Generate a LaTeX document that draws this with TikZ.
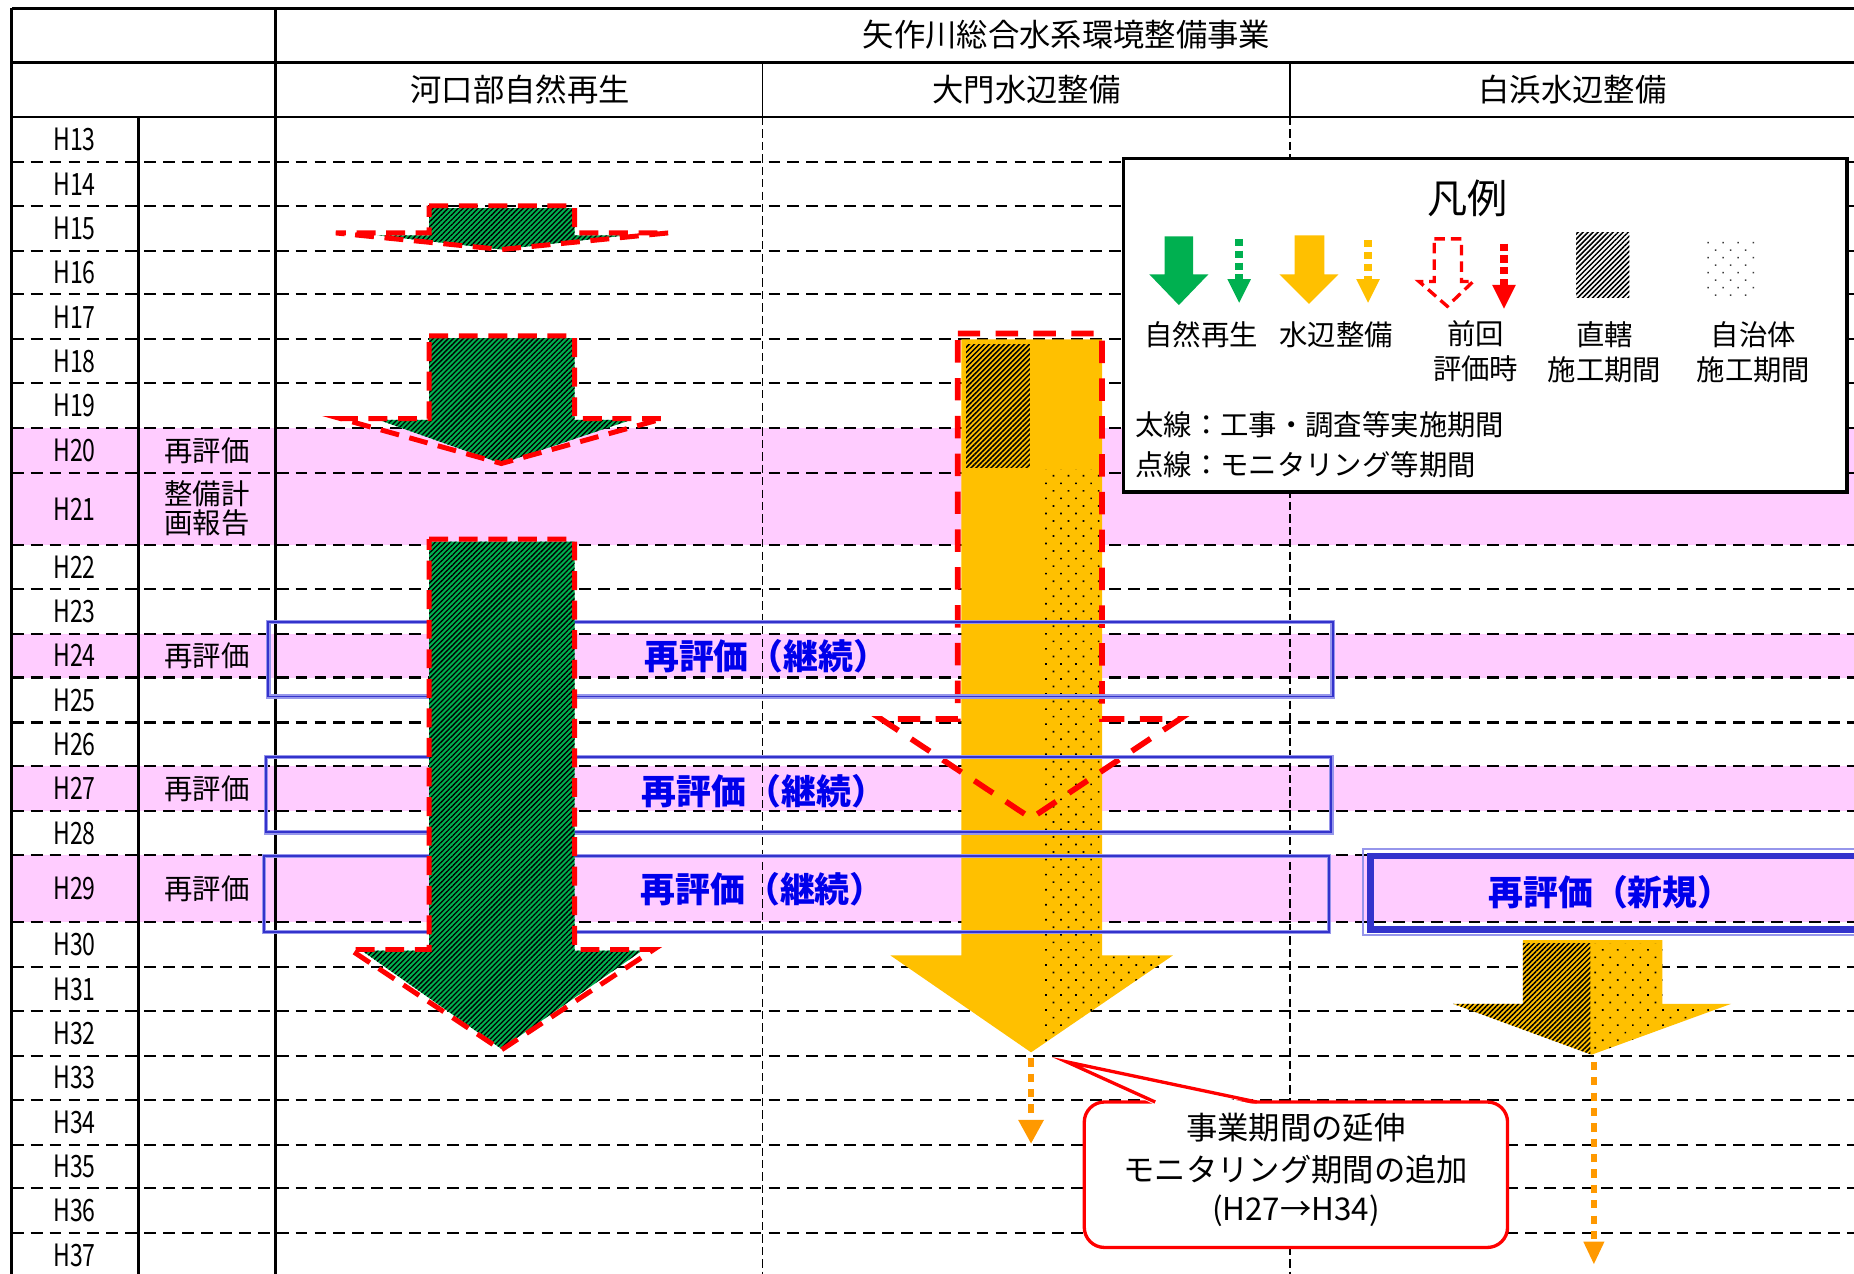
\documentclass[tikz,border=0pt]{standalone}
\usepackage{fontspec}
\setmainfont{Noto Sans CJK JP}
\newfontfamily\yrfont{Noto Sans CJK JP}[FakeStretch=0.75]
\usetikzlibrary{patterns.meta}
\definecolor{pinkband}{RGB}{255,204,255}
\definecolor{grn}{RGB}{0,176,80}
\definecolor{yel}{RGB}{255,192,0}
\definecolor{org}{RGB}{255,153,0}
\definecolor{boxblue}{RGB}{51,51,204}
\definecolor{boxlight}{RGB}{150,150,235}
\definecolor{txtblue}{RGB}{0,0,235}
\definecolor{dotgray}{RGB}{60,60,60}
\tikzset{
  tabline/.style={black, line width=2.4pt},
  thinline/.style={black, line width=1.4pt},
  rowline/.style={black, line width=1.8pt, dash pattern=on 10pt off 6pt},
  coldash/.style={black, line width=1.2pt, dash pattern=on 7pt off 3.5pt},
  hatchfill/.style={pattern={Lines[angle=45,distance=3pt,line width=1.3pt]}, pattern color=black},
  greenhatch/.style={pattern={Lines[angle=45,distance=3pt,line width=1.1pt]}, pattern color=black},
  dotfill/.style={pattern={Dots[angle=45,distance=9pt,radius=1pt]}, pattern color=black},
  legdots/.style={pattern={Dots[angle=45,distance=9pt,radius=0.9pt]}, pattern color=dotgray},
  prevline/.style={red, line width=4.2pt, dash pattern=on 16pt off 9pt},
  prevbig/.style={red, line width=4.8pt, dash pattern=on 19pt off 13pt},
  evalouter/.style={draw=boxlight, line width=3.6pt},
  evalinner/.style={draw=boxblue, line width=1.6pt},
  evaltext/.style={text=txtblue, inner sep=0pt, font=\bfseries\fontsize{29.5}{32}\selectfont},
  yrlabel/.style={inner sep=0pt, font=\yrfont\fontsize{26}{28}\selectfont},
  notelabel/.style={inner sep=0pt, align=center, font=\fontsize{24}{24}\selectfont},
  headlabel/.style={inner sep=0pt, font=\fontsize{26.5}{28}\selectfont},
  legtext/.style={inner sep=0pt, align=center, font=\fontsize{24}{30}\selectfont},
  calltext/.style={inner sep=0pt, font=\fontsize{26.5}{30}\selectfont},
}
\begin{document}
\begin{tikzpicture}[x=1pt,y=-1pt]
\useasboundingbox (0,0) rectangle (1568,1077);
\begin{scope}
\clip (0,0) rectangle (1568,1077);
\fill[white] (0,0) rectangle (1568,1077);
% pink bands
\foreach \a/\b in {362/400,400/461,536/573,648/686,723/780}
  \fill[pinkband] (10,\a) rectangle (1575,\b);
% row lines
\foreach \y in {137,174,212,249,287,324,362,400,461,498,536,573,611,648,686,723,780,818,855,893,930,968,1005,1043}
  \draw[rowline] (10,\y) -- (1575,\y);
% column lines
\draw[coldash] (645,99) -- (645,1080);
\draw[coldash] (1091,99) -- (1091,1080);
\draw[thinline] (645,53) -- (645,99);
\draw[thinline] (1091,53) -- (1091,99);
\draw[tabline] (10,7) -- (1575,7);
\draw[tabline] (10,53) -- (1575,53);
\draw[tabline] (10,99) -- (1575,99);
\draw[tabline] (10,7) -- (10,1080);
\draw[tabline] (233,7) -- (233,1080);
\draw[tabline] (117,99) -- (117,1080);
% headers
\node[headlabel] (title) at (902,29) {矢作川総合水系環境整備事業};
\node[headlabel] (col1) at (440,76) {河口部自然再生};
\node[headlabel] (col2) at (868,76) {大門水辺整備};
\node[headlabel] (col3) at (1330,76) {白浜水辺整備};
% year labels
\foreach \n/\a/\b in {13/99/137,14/137/174,15/174/212,16/212/249,17/249/287,18/287/324,19/324/362,20/362/400,21/400/461,22/461/498,23/498/536,24/536/573,25/573/611,26/611/648,27/648/686,28/686/723,29/723/780,30/780/818,31/818/855,32/855/893,33/893/930,34/930/968,35/968/1005,36/1005/1043,37/1043/1080}
  \node[yrlabel] (y\n) at (63,{(\a+\b)/2}) {H\n};
\node[notelabel] (n20) at (175,381) {再評価};
\node[notelabel] (n21) at (175,430) {整備計\\画報告};
\node[notelabel] (n24) at (175,555) {再評価};
\node[notelabel] (n27) at (175,667) {再評価};
\node[notelabel] (n29) at (175,752) {再評価};
% Daimon yellow arrow
\fill[yel] (813,287) -- (932,287) -- (932,808) -- (992,808) -- (872,890) -- (753,808) -- (813,808) -- cycle;
\path[hatchfill] (817,291) rectangle (871,395);
\begin{scope}
  \clip (813,287) -- (932,287) -- (932,808) -- (992,808) -- (872,890) -- (753,808) -- (813,808) -- cycle;
  \path[dotfill] (880,397) rectangle (1000,900);
\end{scope}
\draw[org, line width=5.5pt, dash pattern=on 7pt off 6pt] (872,895) -- (872,947);
\fill[org] (861,947) -- (883,947) -- (872,967) -- cycle;
\draw[prevbig, line join=miter] (810,282) -- (932,282) -- (932,608) -- (998,608) -- (872,692) -- (745,608) -- (810,608) -- cycle;
% Shirahama yellow arrow
\fill[yel] (1288,795) -- (1406,795) -- (1406,849) -- (1464,849) -- (1346,892) -- (1229,849) -- (1288,849) -- cycle;
\begin{scope}
  \clip (1288,795) -- (1406,795) -- (1406,849) -- (1464,849) -- (1346,892) -- (1229,849) -- (1288,849) -- cycle;
  \path[hatchfill] (1220,798) rectangle (1345,900);
  \path[dotfill] (1347,798) rectangle (1470,900);
\end{scope}
\draw[org, line width=5.5pt, dash pattern=on 7pt off 6pt] (1348,898) -- (1348,1050);
\fill[org] (1339,1050) -- (1357,1050) -- (1348,1069) -- cycle;
% evaluation boxes
\draw[evalouter] (227,526) rectangle (1127,589);
\draw[evalinner] (227,526) rectangle (1127,589);
\node[evaltext] (ev24) at (648,555) {再評価（継続）};
\draw[evalouter] (225,640) rectangle (1126,704);
\draw[evalinner] (225,640) rectangle (1126,704);
\node[evaltext] (ev27) at (646,669) {再評価（継続）};
\draw[evalouter] (223,724) rectangle (1124,788);
\draw[evalinner] (223,724) rectangle (1124,788);
\node[evaltext] (ev29) at (645,752) {再評価（継続）};
\draw[boxlight, line width=1.4pt] (1153,718) rectangle (1580,791);
\draw[boxblue, line width=5.5pt] (1159,724) rectangle (1580,786);
\node[evaltext] (evnew) at (1362,755) {再評価（新規）};
% green arrows
\path[preaction={fill=grn}, greenhatch] (363,176) -- (486,176) -- (486,199) -- (530,199) -- (424,211) -- (319,199) -- (363,199) -- cycle;
\draw[prevline] (363,174) -- (486,174) -- (486,197) -- (565,197) -- (424,211) -- (284,197) -- (363,197) -- cycle;
\path[preaction={fill=grn}, greenhatch] (363,286) -- (486,286) -- (486,355) -- (534,355) -- (424,392) -- (320,355) -- (363,355) -- cycle;
\draw[prevline] (363,284) -- (486,284) -- (486,354) -- (561,354) -- (424,392) -- (288,354) -- (363,354) -- cycle;
\path[preaction={fill=grn}, greenhatch] (363,458) -- (486,458) -- (486,804) -- (543,804) -- (424,887) -- (306,804) -- (363,804) -- cycle;
\draw[prevline] (363,456) -- (486,456) -- (486,803) -- (553,803) -- (424,888) -- (296,803) -- (363,803) -- cycle;
% legend
\draw[black, line width=2.8pt, fill=white] (950,134) rectangle (1562,416);
\node[inner sep=0pt, font=\fontsize{34}{36}\selectfont] (legtitle) at (1241,168) {凡例};
\fill[grn] (985,200) -- (1009,200) -- (1009,232) -- (1022,232) -- (997,258) -- (972,232) -- (985,232) -- cycle;
\draw[grn, line width=6.5pt, dash pattern=on 6pt off 4pt] (1048,202) -- (1048,236);
\fill[grn] (1038,236) -- (1058,236) -- (1048,256) -- cycle;
\fill[yel] (1095,199) -- (1120,199) -- (1120,232) -- (1132,232) -- (1107,257) -- (1082,232) -- (1095,232) -- cycle;
\draw[yel, line width=6.5pt, dash pattern=on 6pt off 4pt] (1157,203) -- (1157,236);
\fill[yel] (1147,236) -- (1167,236) -- (1157,256) -- cycle;
\draw[red, line width=2.8pt, dash pattern=on 9pt off 5pt] (1213,202) -- (1236,202) -- (1236,238) -- (1246,238) -- (1224,259) -- (1200,238) -- (1213,238) -- cycle;
\draw[red, line width=7pt, dash pattern=on 6pt off 4pt] (1272,206) -- (1272,241);
\fill[red] (1262,241) -- (1282,241) -- (1272,261) -- cycle;
\path[hatchfill] (1333,197) rectangle (1378,252);
\path[legdots] (1444,203) rectangle (1487,251);
\node[legtext] (lg1) at (1016,283) {自然再生};
\node[legtext] (lg2) at (1130,283) {水辺整備};
\node[legtext] (lg3) at (1248,297) {前回\\評価時};
\node[legtext] (lg4) at (1357,298) {直轄\\施工期間};
\node[legtext] (lg5) at (1483,298) {自治体\\施工期間};
\node[legtext, anchor=west] (lg6) at (960,359) {太線：工事・調査等実施期間};
\node[legtext, anchor=west] (lg7) at (960,393) {点線：モニタリング等期間};
% callout
\draw[red, line width=2.8pt, fill=white, rounded corners=17pt] (917,932) rectangle (1275,1055);
\fill[white] (977,934.5) -- (902,898) -- (1063,934.5) -- cycle;
\draw[red, line width=2.8pt, line join=miter] (977,932) -- (902,898) -- (1063,932);
\node[calltext] (c1) at (1096,954) {事業期間の延伸};
\node[calltext] (c2) at (1096,989) {モニタリング期間の追加};
\node[calltext] (c3) at (1096,1024) {(H27→H34)};
\end{scope}
\end{tikzpicture}
\end{document}
